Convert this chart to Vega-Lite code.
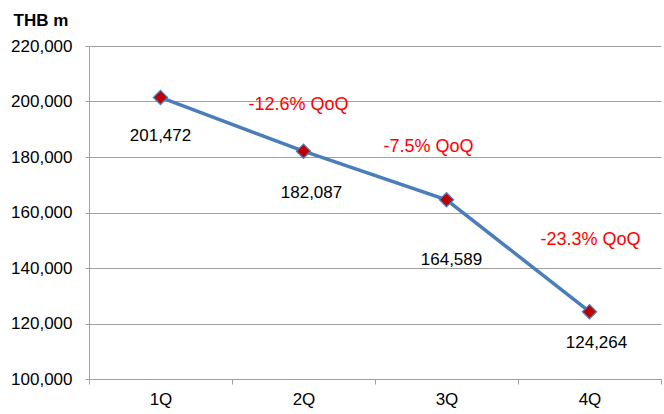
{
  "$schema": "https://vega.github.io/schema/vega-lite/v6.json",
  "width": 572,
  "height": 333,
  "autosize": {"type": "none"},
  "padding": {"left": 89, "top": 46, "right": 3, "bottom": 35},
  "background": "white",
  "config": {
    "view": {"stroke": null},
    "font": "Liberation Sans"
  },
  "datasets": {
    "revenue": [
      {"quarter": "1Q", "value": 201472},
      {"quarter": "2Q", "value": 182087},
      {"quarter": "3Q", "value": 164589},
      {"quarter": "4Q", "value": 124264}
    ],
    "qoq": [
      {"quarter": "2Q", "level": 198700, "label": "-12.6% QoQ"},
      {"quarter": "3Q", "level": 183600, "label": "-7.5% QoQ"},
      {"quarter": "4Q", "level": 150100, "label": "-23.3% QoQ"}
    ]
  },
  "encoding": {
    "x": {
      "field": "quarter",
      "type": "nominal",
      "sort": ["1Q", "2Q", "3Q", "4Q"],
      "scale": {"type": "band", "domain": ["1Q", "2Q", "3Q", "4Q"], "paddingInner": 0, "paddingOuter": 0},
      "axis": {
        "title": null,
        "labelAngle": 0,
        "labelFontSize": 17,
        "labelColor": "#000000",
        "labelPadding": 7,
        "tickBand": "extent",
        "tickSize": 5,
        "tickColor": "#A0A0A0",
        "domainColor": "#A0A0A0",
        "grid": false
      }
    }
  },
  "layer": [
    {
      "data": {"name": "revenue"},
      "mark": {"type": "line", "color": "#4A7EBB", "strokeWidth": 3.5},
      "encoding": {
        "y": {
          "field": "value",
          "type": "quantitative",
          "scale": {"domain": [100000, 220000], "nice": false, "zero": false},
          "axis": {
            "values": [100000, 120000, 140000, 160000, 180000, 200000, 220000],
            "format": ",d",
            "labelFontSize": 17,
            "labelColor": "#000000",
            "labelPadding": 13,
            "tickSize": 4,
            "tickColor": "#A0A0A0",
            "domainColor": "#A0A0A0",
            "gridColor": "#A0A0A0",
            "gridWidth": 1,
            "title": "THB m",
            "titleAngle": 0,
            "titleX": -76,
            "titleY": -21,
            "titleAlign": "left",
            "titleBaseline": "alphabetic",
            "titleFontSize": 17,
            "titleFontWeight": "bold",
            "titleColor": "#000000"
          }
        }
      }
    },
    {
      "data": {"name": "revenue"},
      "mark": {"type": "point", "shape": "diamond", "size": 200, "filled": true, "fill": "#C00000", "stroke": "#4A7EBB", "strokeWidth": 1.3, "opacity": 1},
      "encoding": {
        "y": {"field": "value", "type": "quantitative"}
      }
    },
    {
      "data": {"name": "revenue"},
      "transform": [{"filter": "datum.quarter === '1Q'"}],
      "mark": {"type": "text", "fontSize": 17, "color": "#000000", "dy": 39, "dx": 0, "align": "center", "baseline": "middle"},
      "encoding": {
        "y": {"field": "value", "type": "quantitative"},
        "text": {"field": "value", "type": "quantitative", "format": ",d"}
      }
    },
    {
      "data": {"name": "revenue"},
      "transform": [{"filter": "datum.quarter === '2Q'"}],
      "mark": {"type": "text", "fontSize": 17, "color": "#000000", "dy": 42, "dx": 8, "align": "center", "baseline": "middle"},
      "encoding": {
        "y": {"field": "value", "type": "quantitative"},
        "text": {"field": "value", "type": "quantitative", "format": ",d"}
      }
    },
    {
      "data": {"name": "revenue"},
      "transform": [{"filter": "datum.quarter === '3Q'"}],
      "mark": {"type": "text", "fontSize": 17, "color": "#000000", "dy": 60, "dx": 5, "align": "center", "baseline": "middle"},
      "encoding": {
        "y": {"field": "value", "type": "quantitative"},
        "text": {"field": "value", "type": "quantitative", "format": ",d"}
      }
    },
    {
      "data": {"name": "revenue"},
      "transform": [{"filter": "datum.quarter === '4Q'"}],
      "mark": {"type": "text", "fontSize": 17, "color": "#000000", "dy": 31, "dx": 7, "align": "center", "baseline": "middle"},
      "encoding": {
        "y": {"field": "value", "type": "quantitative"},
        "text": {"field": "value", "type": "quantitative", "format": ",d"}
      }
    },
    {
      "data": {"name": "qoq"},
      "transform": [{"filter": "datum.quarter === '2Q'"}],
      "mark": {"type": "text", "fontSize": 18, "color": "#FF0000", "dx": -5, "align": "center", "baseline": "middle"},
      "encoding": {
        "y": {"field": "level", "type": "quantitative"},
        "text": {"field": "label", "type": "nominal"}
      }
    },
    {
      "data": {"name": "qoq"},
      "transform": [{"filter": "datum.quarter === '3Q'"}],
      "mark": {"type": "text", "fontSize": 18, "color": "#FF0000", "dx": -18, "align": "center", "baseline": "middle"},
      "encoding": {
        "y": {"field": "level", "type": "quantitative"},
        "text": {"field": "label", "type": "nominal"}
      }
    },
    {
      "data": {"name": "qoq"},
      "transform": [{"filter": "datum.quarter === '4Q'"}],
      "mark": {"type": "text", "fontSize": 18, "color": "#FF0000", "dx": 1, "align": "center", "baseline": "middle"},
      "encoding": {
        "y": {"field": "level", "type": "quantitative"},
        "text": {"field": "label", "type": "nominal"}
      }
    }
  ]
}
